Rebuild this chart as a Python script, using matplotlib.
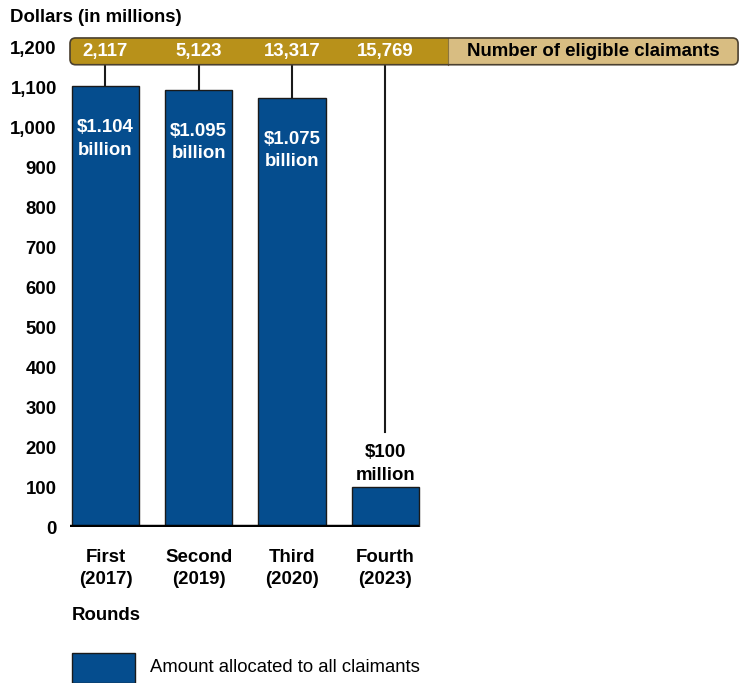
import matplotlib.pyplot as plt
from matplotlib.patches import FancyBboxPatch, Rectangle

plt.rcParams['font.family'] = ['Liberation Sans', 'DejaVu Sans']

rounds = ["First\n(2017)", "Second\n(2019)", "Third\n(2020)", "Fourth\n(2023)"]
amounts = [1104, 1095, 1075, 100]          # dollars, in millions
amount_labels = ["$1.104\nbillion", "$1.095\nbillion", "$1.075\nbillion", "$100\nmillion"]
claimants = ["2,117", "5,123", "13,317", "15,769"]
yticks = list(range(0, 1201, 100))

blue = "#054d8e"
gold = "#b8911a"
tan = "#d8bd82"
fs = 13.4

fig = plt.figure(figsize=(7.39, 6.83), dpi=100)
ax = fig.add_axes([70 / 739, 156 / 683, 669 / 739, 499 / 683])
ax.set_xlim(-0.38, 6.79)
ax.set_ylim(0, 1250)

x = list(range(len(rounds)))
w = 0.72
ax.bar(x, amounts, width=w, color=blue, edgecolor="#1a1a1a", linewidth=1, zorder=2)
ax.plot([-0.38, 3.36], [0, 0], color="black", lw=3.2, solid_capstyle="butt", zorder=3)

# banner with claimant counts
b0, b1 = 1158, 1225
split = 3.67
aspect = (1 / 0.399) / (1 / 93.3)
ax.add_patch(FancyBboxPatch((-0.38, b0), 6.78 + 0.38, b1 - b0,
                            boxstyle="round,pad=0,rounding_size=0.06",
                            mutation_aspect=aspect, facecolor=tan, edgecolor="none",
                            clip_on=False, zorder=2))
ax.add_patch(FancyBboxPatch((-0.38, b0), split + 0.38, b1 - b0,
                            boxstyle="round,pad=0,rounding_size=0.06",
                            mutation_aspect=aspect, facecolor=gold, edgecolor="none",
                            clip_on=False, zorder=2))
ax.add_patch(Rectangle((split - 0.2, b0), 0.2, b1 - b0, facecolor=gold,
                       edgecolor="none", clip_on=False, zorder=2))
ax.plot([split, split], [b0, b1], color="#8a7440", lw=0.8, zorder=3)
ax.add_patch(FancyBboxPatch((-0.38, b0), 6.78 + 0.38, b1 - b0,
                            boxstyle="round,pad=0,rounding_size=0.06",
                            mutation_aspect=aspect, facecolor="none", edgecolor="#4a4030",
                            linewidth=1.2, clip_on=False, zorder=4))
for xi, c in zip(x, claimants):
    ax.text(xi, (b0 + b1) / 2, c, ha="center", va="center", color="white",
            fontsize=fs, fontweight="bold", zorder=5)
ax.text((split + 6.78) / 2, (b0 + b1) / 2, "Number of eligible claimants", ha="center",
        va="center", color="black", fontsize=fs, fontweight="bold", zorder=5)

# connectors from the banner down to each bar
for xi, a in zip(x, amounts):
    end = a if a > 500 else 238
    ax.plot([xi, xi], [end, b0], color="#1a1a1a", lw=1.5, zorder=1)

for xi, a, lab in zip(x, amounts, amount_labels):
    if a > 500:
        ax.text(xi, a - 132, lab, ha="center", va="center", color="white",
                fontsize=fs, fontweight="bold", linespacing=1.4, zorder=5)
    else:
        ax.text(xi, a + 58, lab, ha="center", va="center", color="black",
                fontsize=fs, fontweight="bold", linespacing=1.4, zorder=5)

ax.set_yticks(yticks)
ax.set_yticklabels([f"{v:,}" for v in yticks], fontsize=fs, fontweight="bold")
ax.set_xticks(x)
ax.set_xticklabels(rounds, fontsize=fs, fontweight="bold", linespacing=1.4)
ax.tick_params(axis="both", length=0)
ax.tick_params(axis="y", pad=9.5)
ax.tick_params(axis="x", pad=16)
for s in ax.spines.values():
    s.set_visible(False)

fig.text(10 / 739, 1 - 17 / 683, "Dollars (in millions)", fontsize=fs, fontweight="bold",
         ha="left", va="center")
fig.text(72 / 739, 1 - 615 / 683, "Rounds", fontsize=fs, fontweight="bold",
         ha="left", va="center")

# legend
fig.patches.append(Rectangle((72 / 739, 0), 63 / 739, 30 / 683, transform=fig.transFigure,
                             facecolor=blue, edgecolor="#1a1a1a", linewidth=1))
fig.text(150 / 739, 1 - 668 / 683, "Amount allocated to all claimants", fontsize=13.3,
         ha="left", va="center")

fig.savefig("out.png", dpi=100)
